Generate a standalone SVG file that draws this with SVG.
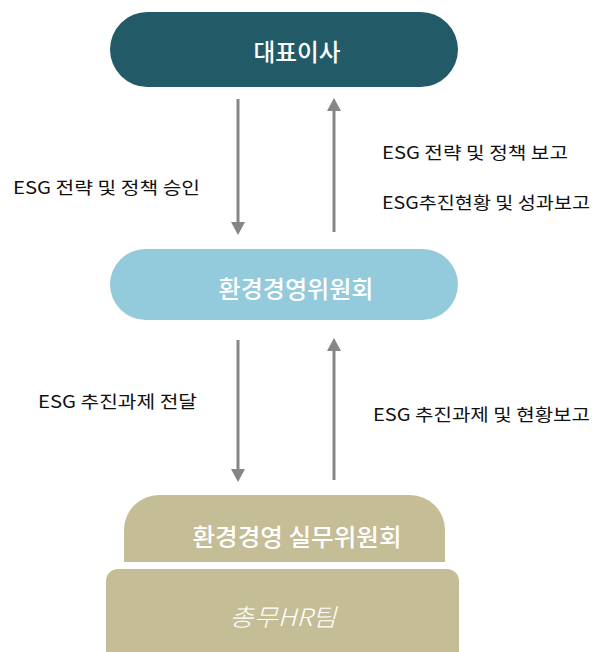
<svg xmlns="http://www.w3.org/2000/svg" width="592" height="652" viewBox="0 0 592 652">
<defs>
<style>
.lbl{font-family:"Noto Sans CJK KR","Noto Sans",sans-serif;font-size:17.5px;fill:#111;}
.nt{font-family:"Noto Sans CJK KR","Noto Sans",sans-serif;font-size:24px;fill:#fff;font-weight:500;text-anchor:middle;dominant-baseline:central;}
.arr{stroke:#868686;stroke-width:3;fill:none;}
</style>
<marker id="ah" markerUnits="userSpaceOnUse" markerWidth="14" markerHeight="14" refX="0" refY="7" orient="auto">
<path d="M0,0 L13,7 L0,14 Z" fill="#868686"/>
</marker>
</defs>
<rect width="592" height="652" fill="#fff"/>
<g id="ceo">
<rect x="110" y="12" width="348" height="75" rx="37.5" fill="#225a68"/>
<text class="nt" x="297" y="50" textLength="87" lengthAdjust="spacingAndGlyphs">대표이사</text>
</g>
<g id="committee">
<rect x="110" y="249" width="348" height="71" rx="35.5" fill="#94cbdc"/>
<text class="nt" x="296" y="287" textLength="155" lengthAdjust="spacingAndGlyphs">환경경영위원회</text>
</g>
<g id="working">
<path d="M124,562 V530 A35,35 0 0 1 159,495 H410 A35,35 0 0 1 445,530 V562 Z" fill="#c5bd96"/>
<text class="nt" x="297" y="535" textLength="209" lengthAdjust="spacingAndGlyphs">환경경영 실무위원회</text>
</g>
<g id="hr">
<rect x="106" y="569" width="353" height="100" rx="12" fill="#c5bd96"/>
<text class="nt" x="283" y="615" textLength="107" lengthAdjust="spacingAndGlyphs" style="font-style:italic;font-weight:300">총무HR팀</text>
</g>
<g id="connectors">
<line class="arr" x1="238" y1="99" x2="238" y2="222" marker-end="url(#ah)"/>
<line class="arr" x1="334" y1="232" x2="334" y2="111" marker-end="url(#ah)"/>
<line class="arr" x1="238" y1="340" x2="238" y2="469" marker-end="url(#ah)"/>
<line class="arr" x1="334" y1="480" x2="334" y2="351" marker-end="url(#ah)"/>
</g>
<g id="labels">
<text class="lbl" x="13" y="194" textLength="187" lengthAdjust="spacingAndGlyphs">ESG 전략 및 정책 승인</text>
<text class="lbl" x="382" y="159" textLength="186" lengthAdjust="spacingAndGlyphs">ESG 전략 및 정책 보고</text>
<text class="lbl" x="382" y="209" textLength="208" lengthAdjust="spacingAndGlyphs">ESG추진현황 및 성과보고</text>
<text class="lbl" x="38" y="408" textLength="159" lengthAdjust="spacingAndGlyphs">ESG 추진과제 전달</text>
<text class="lbl" x="373" y="421" textLength="217" lengthAdjust="spacingAndGlyphs">ESG 추진과제 및 현황보고</text>
</g>
</svg>
